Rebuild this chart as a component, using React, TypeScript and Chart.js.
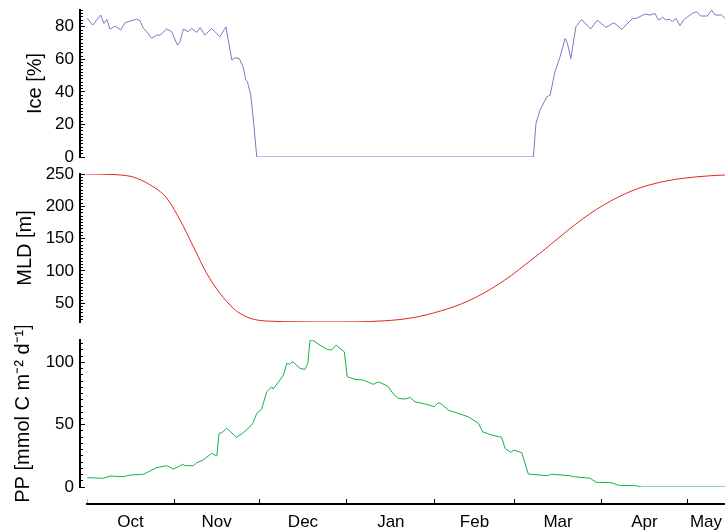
import React, { useEffect, useRef } from "react";
import { Chart, registerables } from "chart.js";

Chart.register(...registerables);

// ---- data (x = days since 1 Oct) ----
const iceDays = [0.4, 2.3, 5.1, 6.3, 7.3, 8.4, 10.2, 12.2, 13.7, 17.8, 19, 20.2, 21.4, 23.1, 24.9, 26.1, 28.4, 30.2, 32.2, 33.1, 34.3, 36, 37.2, 39, 40.2, 41.9, 44.3, 47.2, 49.3, 51.4, 52.5, 54, 55.4, 56.3, 56.9, 58.1, 59, 60.2, 157.8, 158.7, 160.1, 162.5, 163.7, 165.4, 167.2, 169, 169.8, 171, 172.8, 174.8, 178, 180.3, 183.4, 186.2, 189, 192.8, 194.2, 197.2, 198.9, 200.7, 201.9, 203.4, 204.6, 205.7, 206.9, 208.1, 209.5, 210.9, 214.2, 215.4, 216.8, 219.2, 220.7, 221.9, 224.2, 225.4];
const iceValues = [85.2, 81, 87.2, 82, 84.5, 78.6, 80.4, 78, 82.5, 84.7, 83.7, 79, 77, 72.9, 74.9, 74.9, 78.6, 77, 68.7, 70.8, 78.6, 77, 79, 76.5, 79.6, 74.9, 79, 73.8, 80, 59.5, 60.9, 60.5, 55.4, 47.5, 46.2, 38, 22.6, 0, 0, 20.5, 28.7, 36.9, 38, 52.3, 61.5, 72.8, 69.8, 60.5, 80, 84.5, 78.6, 84.1, 79.6, 82.5, 78.4, 85.2, 85.2, 87.8, 87.2, 88.2, 84.1, 85.8, 84.1, 84.7, 83.1, 85.2, 80.6, 84.5, 88.6, 89.2, 86.6, 86.6, 90.3, 87.2, 87.2, 85.2];

const mldDays = [0, 9.5, 14.3, 16.6, 22.5, 28.4, 33.1, 37.8, 42.5, 47.2, 51.9, 55, 57.8, 61, 65, 70, 80, 90, 100, 105, 110, 115, 120, 125, 130, 135, 140, 145, 150, 155, 160, 165, 170, 175, 180, 185, 190, 195, 200, 205, 210, 215, 220, 225.4];
const mldValues = [250, 249.2, 247.4, 245.3, 233.4, 212.8, 179.1, 137.8, 96.5, 65.5, 42.2, 32.5, 26.8, 23.6, 22.2, 21.5, 21.1, 21.1, 21.7, 22.8, 24.5, 27.5, 32, 38, 45, 54, 65, 78, 93, 110, 127, 145, 163, 180, 195, 208, 219, 228, 234.5, 239.5, 243, 245.5, 247.2, 248.5];

const ppDays = [0.4, 6.1, 8.4, 13.1, 15.5, 20.2, 24.9, 28.4, 30.8, 32.5, 34.1, 34.9, 37.8, 39, 41.3, 44.3, 46.1, 46.9, 47.8, 49.6, 53.1, 55.4, 57.8, 58.8, 60.2, 61.9, 63.7, 65.5, 66, 69.6, 70.8, 71.7, 72.9, 75.5, 77.2, 78.2, 79, 79.9, 81.9, 85.1, 86.6, 88.2, 91.1, 92.1, 94.9, 97.8, 101.3, 103.1, 106.4, 108.4, 110.1, 112.5, 114.3, 116, 120.2, 122.8, 124.2, 125.4, 127.8, 130.7, 134.8, 138.4, 139.9, 143.1, 146.6, 147.8, 149.8, 151, 153.7, 156, 162.5, 164.3, 170.7, 171.9, 177.8, 180, 185.4, 187.8, 194.2, 196, 225.4];
const ppValues = [7.5, 7, 8.8, 8.3, 9.6, 10.2, 15.5, 17.1, 14.4, 16.3, 18.2, 17.1, 17.1, 19.5, 21.7, 27, 24.9, 43.1, 43.5, 47.1, 39.9, 43.5, 48.4, 51.1, 59.1, 62.3, 76.4, 80.4, 78.6, 89.8, 99.2, 98.6, 100.5, 95.2, 94.4, 99.2, 117.9, 117.9, 114.7, 110.4, 109.9, 113.9, 108.5, 88.5, 86.4, 85.8, 82.4, 84.4, 81, 74.6, 71.1, 70.6, 71.9, 68.4, 66.3, 64.4, 67.6, 66.6, 61.7, 59.6, 56.4, 51.1, 44.3, 41.7, 39.9, 31, 27.8, 29.7, 27.5, 10.4, 9.1, 10.2, 9.1, 8.3, 7, 3.8, 3.4, 1.4, 1, 0, 0];

const monthNames = ["Oct", "Nov", "Dec", "Jan", "Feb", "Mar", "Apr", "May"];
const monthStarts = [0, 31, 61, 92, 123, 151, 182, 212, 243];

const X_MIN = 0.3;
const X_MAX = 225.4;

const iceTicksMajor = [0, 20, 40, 60, 80];
const mldTicksMajor = [50, 100, 150, 200, 250];
const ppTicksMajor = [0, 50, 100];

// ---- layout constants ----
const W = 725;
const SPINE_X = 80;
const AXIS_START_X = 87;
const PAD = 14;
const FONT = "'Liberation Sans', Arial, Helvetica, sans-serif";

function range(a: number, b: number, step: number) {
  const out: number[] = [];
  for (let v = a; v <= b + 1e-9; v += step) out.push(Math.round(v * 100) / 100);
  return out;
}

type Panel = {
  top: number;
  height: number;
  days: number[];
  values: number[];
  color: string;
  yMin: number;
  yMax: number;
  minorStep: number;
  minorStart: number;
  majors: number[];
  title: string;
  titlePad: number;
  smooth?: boolean;
};

const pxPerDay = (W - AXIS_START_X) / (X_MAX - X_MIN);
const PANEL_X_MIN = X_MIN - (AXIS_START_X - SPINE_X) / pxPerDay;

function makePanel(canvas: HTMLCanvasElement, p: Panel) {
  const ticks = range(p.minorStart, p.yMax, p.minorStep);
  return new Chart(canvas, {
    type: "line",
    data: {
      datasets: [
        {
          data: p.days.map((d, i) => ({ x: d, y: p.values[i] })),
          borderColor: p.color,
          borderWidth: 1,
          pointRadius: 0,
          tension: 0,
          cubicInterpolationMode: p.smooth ? "monotone" : "default",
        },
      ],
    },
    options: {
      animation: false,
      responsive: false,
      events: [],
      layout: { padding: { left: 0, right: 0, top: PAD, bottom: PAD } },
      plugins: { legend: { display: false }, tooltip: { enabled: false } },
      scales: {
        x: {
          type: "linear",
          min: PANEL_X_MIN,
          max: X_MAX,
          display: false,
        },
        y: {
          type: "linear",
          min: p.yMin,
          max: p.yMax,
          afterBuildTicks: (scale: any) => {
            scale.ticks = ticks.map((v) => ({ value: v }));
          },
          afterFit: (scale: any) => {
            scale.width = SPINE_X;
            scale.paddingTop = 0;
            scale.paddingBottom = 0;
          },
          ticks: {
            autoSkip: false,
            padding: 11,
            color: "#000",
            font: { size: 17, family: FONT },
            callback: (v: any) => (p.majors.includes(Number(v)) ? String(v) : ""),
          },
          grid: {
            drawOnChartArea: false,
            drawTicks: true,
            tickLength: -5,
            tickWidth: 1,
            tickColor: "#000",
            tickBorderDash: (ctx: any) =>
              p.majors.includes(ctx.tick ? ctx.tick.value : NaN) ? [] : [0, 2, 10, 0],
          },
          border: { display: true, width: 2, color: "#000" },
          title: {
            display: true,
            text: p.title,
            color: "#000",
            font: { size: 20, family: FONT },
            padding: { top: p.titlePad, bottom: 0 },
          },
        },
      },
    },
  } as any);
}

function makeXAxis(canvas: HTMLCanvasElement, height: number) {
  const items: { value: number; label: string; kind: "edge" | "major" | "label" }[] = [];
  items.push({ value: X_MIN, label: "", kind: "edge" });
  for (let i = 0; i < monthNames.length; i++) {
    const s = Math.max(monthStarts[i], X_MIN);
    const e = Math.min(monthStarts[i + 1], X_MAX);
    items.push({ value: (s + e) / 2, label: monthNames[i], kind: "label" });
    if (monthStarts[i + 1] < X_MAX) items.push({ value: monthStarts[i + 1], label: "", kind: "major" });
  }
  items.push({ value: X_MAX, label: "", kind: "label" });
  return new Chart(canvas, {
    type: "line",
    data: { datasets: [{ data: [] }] },
    options: {
      animation: false,
      responsive: false,
      events: [],
      layout: { padding: { left: AXIS_START_X, right: 0, top: 0, bottom: 0 } },
      plugins: { legend: { display: false }, tooltip: { enabled: false } },
      scales: {
        y: { display: false, min: 0, max: 1 },
        x: {
          type: "linear",
          position: "bottom",
          min: X_MIN,
          max: X_MAX,
          afterBuildTicks: (scale: any) => {
            scale.ticks = items.map((it) => ({ value: it.value }));
          },
          afterFit: (scale: any) => {
            scale.height = height - 34;
            scale.paddingLeft = 0;
            scale.paddingRight = 0;
          },
          ticks: {
            autoSkip: false,
            maxRotation: 0,
            padding: 13,
            color: "#000",
            font: { size: 17, family: FONT },
            callback: (_v: any, i: number) => items[i].label,
          },
          grid: {
            drawOnChartArea: false,
            drawTicks: true,
            tickLength: -5,
            tickWidth: 1,
            tickColor: (ctx: any) => {
              const it = items[ctx.index];
              if (!it) return "rgba(0,0,0,0)";
              if (it.kind === "major") return "#000";
              if (it.kind === "edge") return "#bbb";
              return "rgba(0,0,0,0)";
            },
          },
          border: { display: true, width: 2, color: "#000" },
        },
      },
    },
  } as any);
}

const panels: Panel[] = [
  {
    top: 10 - PAD, height: 147 + 2 * PAD, days: iceDays, values: iceValues, color: "#7a7ac6",
    yMin: 0, yMax: 90.3, minorStep: 2, minorStart: 0, majors: iceTicksMajor, title: "Ice [%]", titlePad: 23,
  },
  {
    top: 174 - PAD, height: 148 + 2 * PAD, days: mldDays, values: mldValues, color: "#e3261f",
    yMin: 21, yMax: 250, minorStep: 5, minorStart: 25, majors: mldTicksMajor, title: "MLD [m]", titlePad: 13, smooth: true,
  },
  {
    top: 340 - PAD, height: 147 + 2 * PAD, days: ppDays, values: ppValues, color: "#17b04b",
    yMin: 0, yMax: 118, minorStep: 5, minorStart: 0, majors: ppTicksMajor, title: "PP [mmol C m\u207B\u00B2 d\u207B\u00B9]", titlePad: 11,
  },
];

const X_AXIS_TOP = 470;
const X_AXIS_H = 531 - X_AXIS_TOP;

export default function App() {
  const refs = [useRef<HTMLCanvasElement>(null), useRef<HTMLCanvasElement>(null), useRef<HTMLCanvasElement>(null)];
  const xRef = useRef<HTMLCanvasElement>(null);

  useEffect(() => {
    const charts: Chart[] = [];
    panels.forEach((p, i) => {
      const c = refs[i].current;
      if (c) charts.push(makePanel(c, p));
    });
    if (xRef.current) charts.push(makeXAxis(xRef.current, X_AXIS_H));
    return () => charts.forEach((c) => c.destroy());
  }, []);

  return (
    <div style={{ position: "absolute", left: 0, top: 0, width: W, height: 531, overflow: "hidden", background: "#fff" }}>
      {panels.map((p, i) => (
        <canvas
          key={i}
          ref={refs[i]}
          width={W}
          height={p.height}
          style={{ position: "absolute", left: 0, top: p.top, width: W, height: p.height }}
        />
      ))}
      <canvas
        ref={xRef}
        width={W}
        height={X_AXIS_H}
        style={{ position: "absolute", left: 0, top: X_AXIS_TOP, width: W, height: X_AXIS_H }}
      />
    </div>
  );
}
